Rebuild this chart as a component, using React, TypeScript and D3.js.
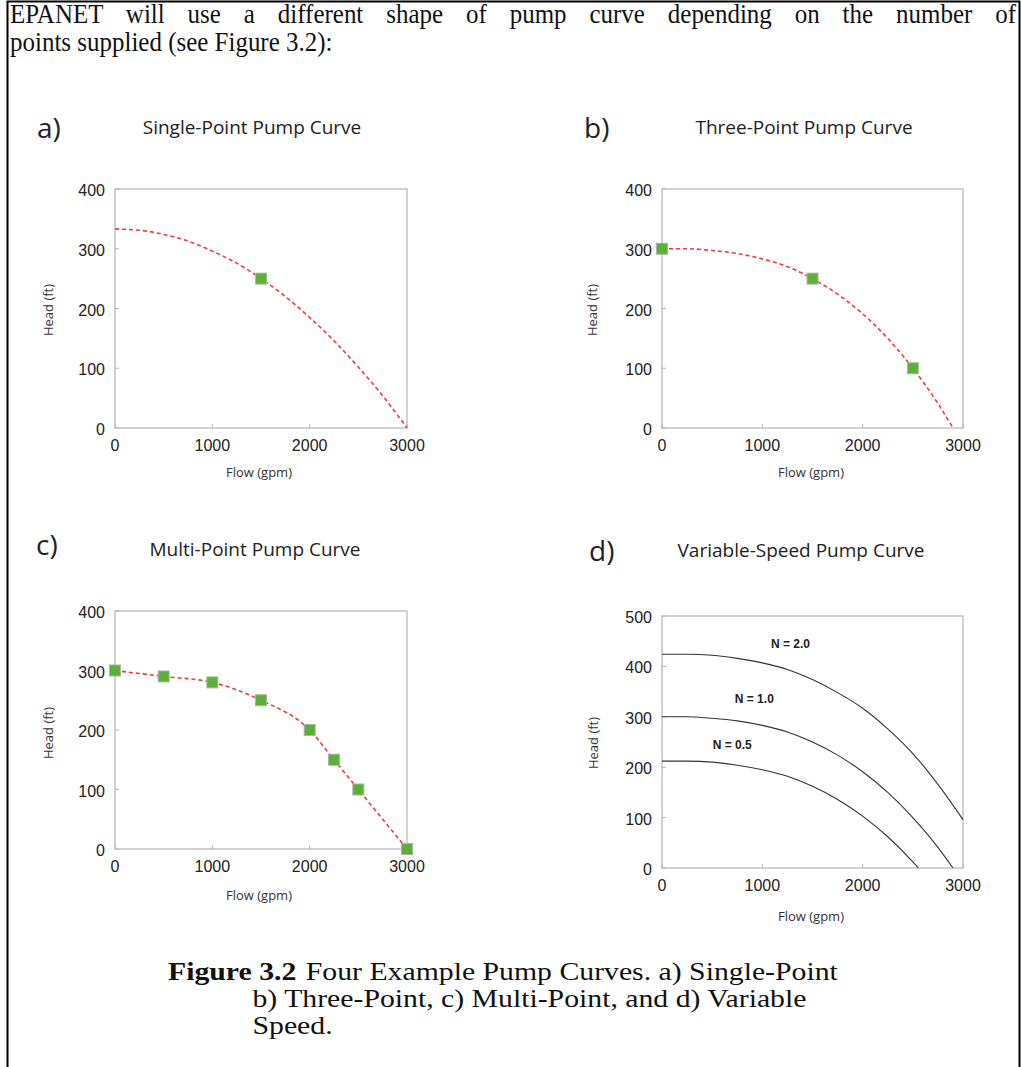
import React, { useLayoutEffect, useRef } from "react";
import * as d3 from "d3";

// ---------- data ----------
const flowTicks = [0, 1000, 2000, 3000];
const headTicks400 = [0, 100, 200, 300, 400];
const headTicks500 = [0, 100, 200, 300, 400, 500];

// a) single point
const singlePtFlow = [1500];
const singlePtHead = [250];
const singleCurveFlow = [0, 250, 500, 750, 1000, 1250, 1500, 1750, 2000, 2250, 2500, 2750, 3000];
const singleCurveHead = [333, 331, 324, 313, 296, 276, 250, 220, 185, 146, 102, 54, 0];

// b) three point
const threePtFlow = [0, 1500, 2500];
const threePtHead = [300, 250, 100];
const threeCurveFlow = [0, 250, 500, 750, 1000, 1250, 1500, 1750, 2000, 2250, 2500, 2750, 2900];
const threeCurveHead = [300, 300, 297, 292, 283, 270, 250, 224, 191, 150, 100, 41, 0];

// c) multi point
const multiPtFlow = [0, 500, 1000, 1500, 2000, 2250, 2500, 3000];
const multiPtHead = [300, 290, 280, 250, 200, 150, 100, 0];

// d) variable speed
const speedFlowHigh = [0, 250, 500, 750, 1000, 1250, 1500, 1750, 2000, 2250, 2500, 2750, 3000];
const speedHeadHigh = [424, 424, 422, 416, 407, 394, 374, 348, 317, 276, 227, 166, 96];
const speedFlowMid = [0, 250, 500, 750, 1000, 1250, 1500, 1750, 2000, 2250, 2500, 2750, 2900];
const speedHeadMid = [300, 300, 297, 292, 283, 270, 250, 224, 191, 150, 100, 41, 0];
const speedFlowLow = [0, 250, 500, 750, 1000, 1250, 1500, 1750, 2000, 2250, 2500, 2555];
const speedHeadLow = [212, 212, 210, 204, 195, 182, 162, 136, 103, 62, 12, 0];
const speedLabels = ["N = 2.0", "N = 1.0", "N = 0.5"];
const speedLabelFlow = [1280, 920, 700];
const speedLabelHead = [437, 327, 237];

// ---------- text ----------
const introLine1 = "EPANET will use a different shape of pump curve depending on the number of";
const introLine2 = "points supplied (see Figure 3.2):";
const captionBold = "Figure 3.2";
const captionLine1 = "Four Example Pump Curves. a) Single-Point";
const captionLine2 = "b) Three-Point, c) Multi-Point, and d) Variable";
const captionLine3 = "Speed.";

const SANS = "'Open Sans', 'Noto Sans', sans-serif";
const ARIAL = "'Liberation Sans', Arial, sans-serif";
const SERIF = "'Liberation Serif', 'Times New Roman', serif";
const FRAME = "#b4b4b4";
const RED = "#f23a3a";
const GREEN = "#5cb038";
const INTRO_SCALE = 0.925;

type Panel = {
  letter: string;
  title: string;
  x0: number; x1: number; y0: number; y1: number;
  yMax: number;
  yTicks: number[];
  letterX: number; letterY: number;
  titleX: number; titleY: number;
  headLabelX: number; headLabelY: number;
  flowLabelX: number; flowLabelY: number;
};

function Axes({ p, children }: { p: Panel; children: (x: d3.ScaleLinear<number, number>, y: d3.ScaleLinear<number, number>) => React.ReactNode }) {
  const x = d3.scaleLinear().domain([0, 3000]).range([p.x0, p.x1]);
  const y = d3.scaleLinear().domain([0, p.yMax]).range([p.y0, p.y1]);
  return (
    <g>
      <text x={p.letterX} y={p.letterY} fontFamily={SANS} fontSize={28} fill="#222">{p.letter}</text>
      <text x={p.titleX} y={p.titleY} textAnchor="middle" fontFamily={SANS} fontSize={19} fill="#222">{p.title}</text>
      <rect x={p.x0} y={p.y1} width={p.x1 - p.x0} height={p.y0 - p.y1} fill="none" stroke={FRAME} strokeWidth={1.2} />
      {flowTicks.map((t) => (
        <g key={"x" + t}>
          <line x1={x(t)} x2={x(t)} y1={p.y0} y2={p.y0 - 4} stroke={FRAME} strokeWidth={1} />
          <text x={x(t)} y={p.y0 + 23} textAnchor="middle" fontFamily={ARIAL} fontSize={16} fill="#222">{t}</text>
        </g>
      ))}
      {p.yTicks.map((t) => (
        <g key={"y" + t}>
          <line x1={p.x0} x2={p.x0 + 4} y1={y(t)} y2={y(t)} stroke={FRAME} strokeWidth={1} />
          <text x={p.x0 - 10} y={y(t) + 7} textAnchor="end" fontFamily={ARIAL} fontSize={16} fill="#222">{t}</text>
        </g>
      ))}
      <text x={p.flowLabelX} y={p.flowLabelY} textAnchor="middle" fontFamily={SANS} fontSize={13} fill="#333">Flow (gpm)</text>
      <text transform={`translate(${p.headLabelX},${p.headLabelY}) rotate(-90)`} textAnchor="middle" fontFamily={SANS} fontSize={13} fill="#333">Head (ft)</text>
      {children(x, y)}
    </g>
  );
}

function Markers({ xs, ys, x, y }: { xs: number[]; ys: number[]; x: any; y: any }) {
  return (
    <g>
      {xs.map((f, i) => (
        <rect key={i} x={x(f) - 5.5} y={y(ys[i]) - 5.5} width={11} height={11} fill={GREEN} stroke="#a8b8a0" strokeWidth={1} />
      ))}
    </g>
  );
}

function DashedCurve({ xs, ys, x, y, curve }: { xs: number[]; ys: number[]; x: any; y: any; curve: any }) {
  const gen = d3.line<number>().x((f) => x(f)).y((_, i) => y(ys[i])).curve(curve);
  return <path d={gen(xs) || ""} fill="none" stroke={RED} strokeWidth={1.6} strokeDasharray="4,3" />;
}

const panels: Panel[] = [
  { letter: "a)", title: "Single-Point Pump Curve", x0: 115, x1: 407, y0: 428, y1: 189, yMax: 400, yTicks: headTicks400,
    letterX: 37, letterY: 138, titleX: 252, titleY: 134, headLabelX: 53, headLabelY: 310, flowLabelX: 259, flowLabelY: 477 },
  { letter: "b)", title: "Three-Point Pump Curve", x0: 662, x1: 963, y0: 428, y1: 189, yMax: 400, yTicks: headTicks400,
    letterX: 584, letterY: 138, titleX: 804, titleY: 134, headLabelX: 597, headLabelY: 310, flowLabelX: 811, flowLabelY: 477 },
  { letter: "c)", title: "Multi-Point Pump Curve", x0: 115, x1: 407, y0: 849, y1: 611, yMax: 400, yTicks: headTicks400,
    letterX: 36, letterY: 555, titleX: 255, titleY: 556, headLabelX: 53, headLabelY: 733, flowLabelX: 259, flowLabelY: 900 },
  { letter: "d)", title: "Variable-Speed Pump Curve", x0: 662, x1: 963, y0: 868, y1: 616, yMax: 500, yTicks: headTicks500,
    letterX: 589, letterY: 561, titleX: 801, titleY: 557, headLabelX: 598, headLabelY: 743, flowLabelX: 811, flowLabelY: 921 },
];

export default function App() {
  const line1Ref = useRef<SVGTextElement>(null);
  useLayoutEffect(() => {
    const el = line1Ref.current;
    if (!el) return;
    el.setAttribute("word-spacing", "0");
    const len = el.getComputedTextLength();
    const spaces = (introLine1.match(/ /g) || []).length;
    const target = (1016 - 10) / INTRO_SCALE;
    el.setAttribute("word-spacing", String((target - len) / spaces));
  }, []);

  const [pa, pb, pc, pd] = panels;
  return (
    <svg width={1021} height={1067} style={{ position: "absolute", left: 0, top: 0, display: "block", background: "#fff" }}>
      <rect x={0} y={0} width={1021} height={1067} fill="#fff" />
      <path d="M7.5,1067 V1.5 H1019.5 V1067" fill="none" stroke="#000" strokeWidth={2} />

      <g transform={`translate(10,0) scale(${INTRO_SCALE},1)`}>
        <text ref={line1Ref} x={0} y={23} fontFamily={SERIF} fontSize={27} fill="#111">{introLine1}</text>
        <text x={0} y={51} fontFamily={SERIF} fontSize={27} fill="#111">{introLine2}</text>
      </g>

      <Axes p={pa}>
        {(x, y) => (
          <g>
            <DashedCurve xs={singleCurveFlow} ys={singleCurveHead} x={x} y={y} curve={d3.curveMonotoneX} />
            <Markers xs={singlePtFlow} ys={singlePtHead} x={x} y={y} />
          </g>
        )}
      </Axes>
      <Axes p={pb}>
        {(x, y) => (
          <g>
            <DashedCurve xs={threeCurveFlow} ys={threeCurveHead} x={x} y={y} curve={d3.curveMonotoneX} />
            <Markers xs={threePtFlow} ys={threePtHead} x={x} y={y} />
          </g>
        )}
      </Axes>
      <Axes p={pc}>
        {(x, y) => (
          <g>
            <DashedCurve xs={multiPtFlow} ys={multiPtHead} x={x} y={y} curve={d3.curveMonotoneX} />
            <Markers xs={multiPtFlow} ys={multiPtHead} x={x} y={y} />
          </g>
        )}
      </Axes>
      <Axes p={pd}>
        {(x, y) => {
          const series = [
            [speedFlowHigh, speedHeadHigh],
            [speedFlowMid, speedHeadMid],
            [speedFlowLow, speedHeadLow],
          ];
          return (
            <g>
              {series.map(([fs, hs], k) => {
                const gen = d3.line<number>().x((f) => x(f)).y((_, i) => y(hs[i])).curve(d3.curveMonotoneX);
                return <path key={k} d={gen(fs) || ""} fill="none" stroke="#333" strokeWidth={1.1} />;
              })}
              {speedLabels.map((s, k) => (
                <text key={s} x={x(speedLabelFlow[k])} y={y(speedLabelHead[k])} textAnchor="middle" fontFamily={ARIAL} fontWeight="bold" fontSize={12} fill="#222">{s}</text>
              ))}
            </g>
          );
        }}
      </Axes>

      <g transform="translate(168,0) scale(1.19,1)">
        <text x={0} y={980} fontFamily={SERIF} fontSize={25} fill="#111">
          <tspan fontWeight="bold">{captionBold}</tspan>
          <tspan dx={8}>{captionLine1}</tspan>
        </text>
        <text x={71} y={1007} fontFamily={SERIF} fontSize={25} fill="#111">{captionLine2}</text>
        <text x={71} y={1034} fontFamily={SERIF} fontSize={25} fill="#111">{captionLine3}</text>
      </g>
    </svg>
  );
}
